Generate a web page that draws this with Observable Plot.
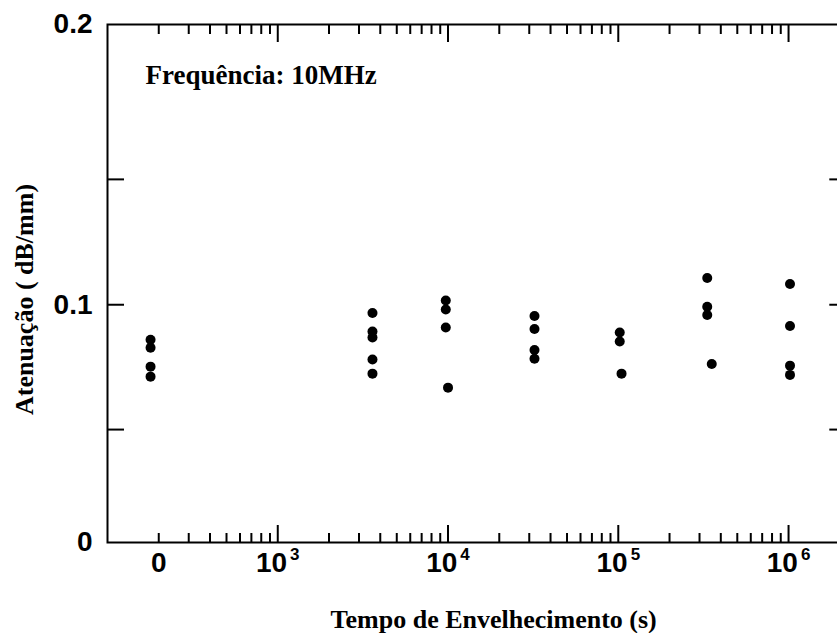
<!DOCTYPE html>
<html>
<head>
<meta charset="utf-8">
<script src="https://cdn.jsdelivr.net/npm/d3@7"></script>
<script src="https://cdn.jsdelivr.net/npm/@observablehq/plot@0.6"></script>
<style>
  html, body { margin: 0; padding: 0; background: #fff; }
  svg { display: block; }
</style>
</head>
<body>
<div id="chart"></div>
<script>
// Aging time (s) of each measured point; the "0" group is drawn just left of the 2x10^2 position
const agingTime = [
  179, 179, 179, 179,
  3600, 3600, 3600, 3600, 3600,
  9700, 9700, 9700, 10000,
  32200, 32200, 32200, 32200,
  102000, 102000, 104500,
  333000, 333000, 333000, 354000,
  1020000, 1020000, 1020000, 1020000
];
// Attenuation (dB/mm) at 10 MHz
const attenuation = [
  0.0860, 0.0828, 0.0752, 0.0712,
  0.0967, 0.0893, 0.0869, 0.0781, 0.0724,
  0.1017, 0.0981, 0.0909, 0.0668,
  0.0955, 0.0903, 0.0819, 0.0784,
  0.0889, 0.0853, 0.0724,
  0.1107, 0.0992, 0.0959, 0.0763,
  0.1083, 0.0915, 0.0756, 0.0719
];

// Axis ticks and labels
const xMajorTicks = [1e3, 1e4, 1e5, 1e6];
const xMinorTicks = [
  200, 300, 400, 500, 600, 700, 800, 900,
  2000, 3000, 4000, 5000, 6000, 7000, 8000, 9000,
  20000, 30000, 40000, 50000, 60000, 70000, 80000, 90000,
  200000, 300000, 400000, 500000, 600000, 700000, 800000, 900000
];
const xLabelTicks = [200, 1e3, 1e4, 1e5, 1e6];
const xLabelText = ["0", "10^3", "10^4", "10^5", "10^6"];
const yTicks = [0.05, 0.1, 0.15];
const yLabelTicks = [0, 0.1, 0.2];
const yLabelText = ["0", "0.1", "0.2"];

// The printed y axis is not evenly spaced: tick values and their fraction of the plot height
const yScaleStops = [0, 0.05, 0.1, 0.15, 0.2];
const yScaleFrac = [0, 0.218, 0.459, 0.701, 1];

const W = 837, H = 633, MT = 24, MB = 91, ML = 107, MR = -2.3;
const plotH = H - MT - MB;
const serif = "'Liberation Serif', 'Times New Roman', serif";
const sans = "'Liberation Sans', Arial, sans-serif";

const points = agingTime.map((t, i) => ({t, a: attenuation[i]}));

const plot = Plot.plot({
  width: W,
  height: H,
  marginTop: MT,
  marginBottom: MB,
  marginLeft: ML,
  marginRight: MR,
  style: {background: "#fff", color: "#000", fontFamily: sans},
  x: {type: "log", domain: [100, 2e6]},
  y: {type: "linear", domain: yScaleStops, range: yScaleFrac.map(f => H - MB - f * plotH)},
  marks: [
    Plot.frame({stroke: "#000", strokeWidth: 2}),
    // x ticks (inside, bottom and top)
    Plot.axisX(xMinorTicks, {anchor: "bottom", tickSize: -9, fill: "none", strokeWidth: 2, label: null}),
    Plot.axisX(xMajorTicks, {anchor: "bottom", tickSize: -17, fill: "none", strokeWidth: 2, label: null}),
    Plot.axisX(xMinorTicks, {anchor: "top", tickSize: -9, fill: "none", strokeWidth: 2, label: null}),
    Plot.axisX(xMajorTicks, {anchor: "top", tickSize: -17, fill: "none", strokeWidth: 2, label: null}),
    // y ticks (inside, left and right)
    Plot.axisY(yTicks, {anchor: "left", tickSize: -17, fill: "none", strokeWidth: 2, label: null}),
    Plot.axisY(yTicks, {anchor: "right", tickSize: -11, fill: "none", strokeWidth: 2, label: null}),
    // tick labels
    Plot.axisX(xLabelTicks, {
      anchor: "bottom", tickSize: 0, tickPadding: 10, label: null,
      tickFormat: d => xLabelText[xLabelTicks.indexOf(d)],
      fontSize: 28, fontWeight: "bold", fontFamily: sans
    }),
    Plot.axisY(yLabelTicks, {
      anchor: "left", tickSize: 0, tickPadding: 15, label: null,
      tickFormat: d => yLabelText[yLabelTicks.indexOf(d)],
      fontSize: 28, fontWeight: "bold", fontFamily: sans
    }),
    // data
    Plot.dot(points, {x: "t", y: "a", r: 5, fill: "#000", stroke: "none"}),
    // texts
    Plot.text(["Frequência: 10MHz"], {
      frameAnchor: "top-left", dx: 38, dy: 59, textAnchor: "start", lineAnchor: "bottom",
      fontFamily: serif, fontWeight: "bold", fontSize: 27, fill: "#000"
    }),
    Plot.text(["Tempo de Envelhecimento (s)"], {
      frameAnchor: "bottom", dx: 20, dy: 85, textAnchor: "middle", lineAnchor: "bottom",
      fontFamily: serif, fontWeight: "bold", fontSize: 26, fill: "#000"
    }),
    Plot.text(["Atenuação ( dB/mm)"], {
      frameAnchor: "left", rotate: -90, dx: -75, dy: 16, textAnchor: "middle", lineAnchor: "bottom",
      fontFamily: serif, fontWeight: "bold", fontSize: 26, fill: "#000"
    })
  ]
});

// turn "10^k" labels into 10 with a superscript
d3.select(plot).selectAll("text").each(function() {
  const s = this.textContent;
  if (s && s.indexOf("^") > 0) {
    const [base, exp] = s.split("^");
    const t = d3.select(this);
    t.text(null);
    t.append("tspan").text(base);
    t.append("tspan").attr("dx", 3).attr("dy", -12.5).attr("font-size", 17).text(exp);
  }
});

document.getElementById("chart").appendChild(plot);
</script>
</body>
</html>
